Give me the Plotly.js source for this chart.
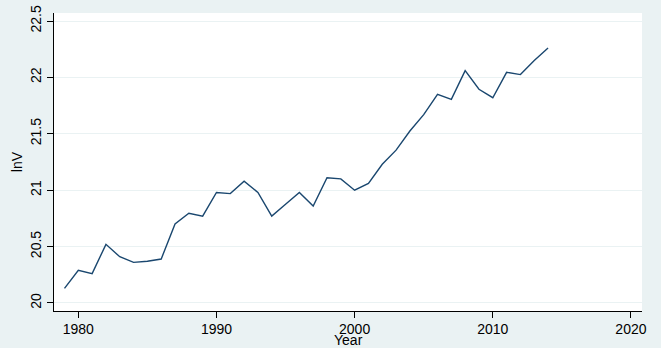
<!DOCTYPE html>
<html>
<head>
<meta charset="utf-8">
<script src="https://cdn.plot.ly/plotly-3.0.1.min.js"></script>
<style>html,body{margin:0;padding:0;background:#EAF2F3;}#chart{width:661px;height:348px;}</style>
</head>
<body>
<div id="chart"></div>
<script>
const years = [1979,1980,1981,1982,1983,1984,1985,1986,1987,1988,1989,1990,1991,1992,1993,1994,1995,1996,1997,1998,1999,2000,2001,2002,2003,2004,2005,2006,2007,2008,2009,2010,2011,2012,2013,2014];
const lnV = [20.13,20.29,20.26,20.52,20.41,20.36,20.37,20.39,20.70,20.795,20.77,20.98,20.97,21.08,20.98,20.77,20.875,20.98,20.86,21.11,21.10,21.00,21.06,21.23,21.355,21.525,21.67,21.85,21.805,22.06,21.895,21.82,22.045,22.025,22.15,22.26];
const xTicks = [1980,1990,2000,2010,2020];
const yTicks = [20,20.5,21,21.5,22,22.5];
const yTickText = ['20','20.5','21','21.5','22','22.5'];

const font = 'Arial, "Liberation Sans", sans-serif';
Plotly.newPlot('chart', [{
  x: years, y: lnV, type: 'scatter', mode: 'lines',
  line: {color: '#1a476f', width: 1.4}, hoverinfo: 'skip'
}], {
  width: 661, height: 348,
  paper_bgcolor: '#EAF2F3', plot_bgcolor: '#FFFFFF',
  margin: {l: 54, r: 19, t: 13, b: 37},
  showlegend: false,
  font: {family: font, color: '#000'},
  xaxis: {
    range: [1978.24, 2020.8], tickvals: xTicks, ticktext: xTicks.map(String),
    showgrid: false, zeroline: false, showline: true, linecolor: '#000', linewidth: 1,
    ticks: 'outside', ticklen: 6, tickcolor: '#000', tickwidth: 1,
    ticklabelstandoff: -1,
    tickfont: {size: 14, family: font, color: '#000'},
    automargin: false
  },
  yaxis: {
    range: [19.929, 22.571], tickvals: yTicks, ticktext: yTickText,
    showgrid: true, gridcolor: '#EAF2F3', gridwidth: 1,
    zeroline: false, showline: true, linecolor: '#000', linewidth: 1,
    ticks: 'outside', ticklen: 6, tickcolor: '#000', tickwidth: 1,
    tickangle: -90,
    tickfont: {size: 14, family: font, color: '#000'},
    title: {text: 'lnV', font: {size: 14, family: font, color: '#000'}, standoff: 2},
    automargin: false
  },
  annotations: [{
    text: 'Year', xref: 'paper', yref: 'paper', x: 0.5, y: -0.098, yanchor: 'middle', xanchor: 'center',
    showarrow: false, font: {size: 14, family: font, color: '#000'}
  }]
}, {displayModeBar: false, staticPlot: true});
</script>
</body>
</html>
